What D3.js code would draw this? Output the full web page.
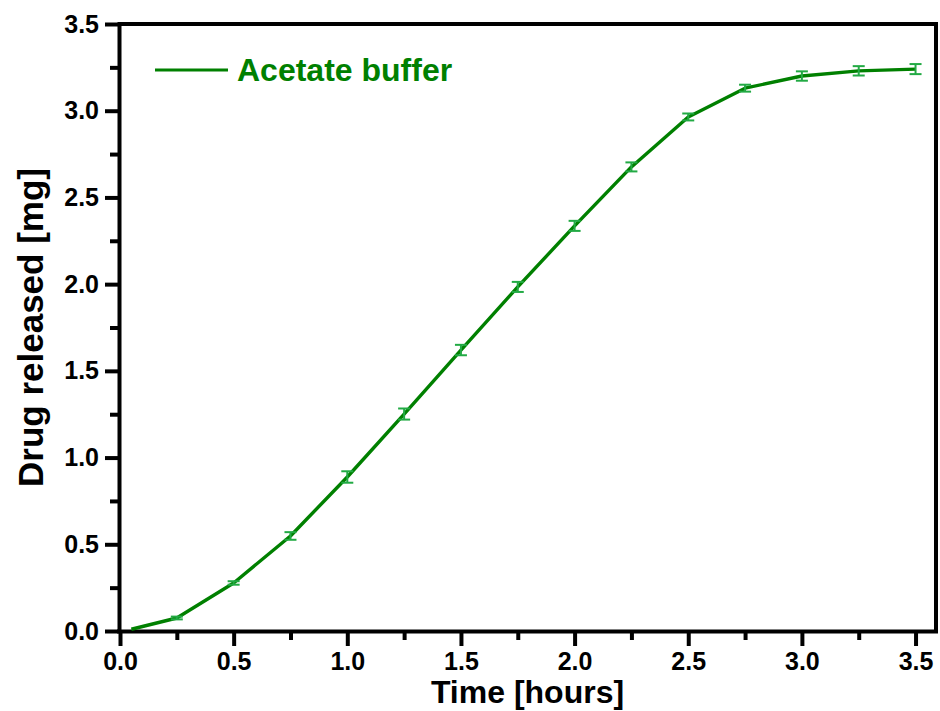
<!DOCTYPE html>
<html>
<head>
<meta charset="utf-8">
<script src="https://cdn.jsdelivr.net/npm/d3@7"></script>
<style>
  html, body { margin: 0; padding: 0; background: #fff; }
  svg { display: block; }
  text { font-family: "Liberation Sans", Arial, sans-serif; font-weight: bold; }
</style>
</head>
<body>
<svg id="chart" width="940" height="711"></svg>
<script>
// ---- data ----
const timeHours = [0.05, 0.25, 0.5, 0.75, 1.0, 1.25, 1.5, 1.75, 2.0, 2.25, 2.5, 2.75, 3.0, 3.25, 3.5];
const drugReleased = [0.01, 0.075, 0.277, 0.548, 0.888, 1.251, 1.62, 1.984, 2.336, 2.676, 2.964, 3.13, 3.2, 3.23, 3.24];
const errorValues = [0, 0.008, 0.01, 0.022, 0.033, 0.032, 0.03, 0.029, 0.029, 0.026, 0.02, 0.02, 0.027, 0.027, 0.029];
const xTicks = [0, 0.5, 1.0, 1.5, 2.0, 2.5, 3.0, 3.5];
const yTicks = [0, 0.5, 1.0, 1.5, 2.0, 2.5, 3.0, 3.5];
const xMinorTicks = [0.25, 0.75, 1.25, 1.75, 2.25, 2.75, 3.25];
const yMinorTicks = [0.25, 0.75, 1.25, 1.75, 2.25, 2.75, 3.25];
const seriesName = "Acetate buffer";
const xTitle = "Time [hours]";
const yTitle = "Drug released [mg]";

const data = timeHours.map((t, i) => ({ t, v: drugReleased[i], e: errorValues[i] }));

// ---- layout ----
const svg = d3.select("#chart");
const mLeft = 119, mRight = 936, mTop = 24, mBottom = 631;
const x = d3.scaleLinear().domain([0, 3.59]).range([mLeft + 1, mRight]);
const y = d3.scaleLinear().domain([0, 3.5]).range([mBottom, mTop]);

const lineColor = "#008000";
const errColor = "#22aa44";

// frame (top & right borders)
svg.append("path")
  .attr("d", `M${mLeft},${mTop} H${mRight} V${mBottom}`)
  .attr("fill", "none").attr("stroke", "#000").attr("stroke-width", 4);

function styleAxis(g) {
  g.select(".domain").attr("stroke", "#000").attr("stroke-width", 4);
  g.selectAll(".tick line").attr("stroke", "#000").attr("stroke-width", 4);
  g.selectAll(".tick text").attr("fill", "#000").attr("font-size", 25).attr("font-weight", "bold")
    .attr("font-family", "'Liberation Sans', Arial, sans-serif");
}

// minor ticks
svg.append("g").attr("transform", `translate(0,${mBottom})`)
  .call(d3.axisBottom(x).tickValues(xMinorTicks).tickSize(9).tickFormat(""))
  .call(g => { g.select(".domain").remove(); g.selectAll(".tick line").attr("stroke", "#000").attr("stroke-width", 4); });
svg.append("g").attr("transform", `translate(${mLeft},0)`)
  .call(d3.axisLeft(y).tickValues(yMinorTicks).tickSize(9).tickFormat(""))
  .call(g => { g.select(".domain").remove(); g.selectAll(".tick line").attr("stroke", "#000").attr("stroke-width", 4); });

// major axes
svg.append("g").attr("transform", `translate(0,${mBottom})`)
  .call(d3.axisBottom(x).tickValues(xTicks).tickSize(15).tickSizeOuter(0).tickPadding(6).tickFormat(d3.format(".1f")))
  .call(styleAxis)
  .call(g => g.select(".domain").attr("d", `M${mLeft - 2},0.5H${mRight + 2}`));

svg.append("g").attr("transform", `translate(${mLeft},0)`)
  .call(d3.axisLeft(y).tickValues(yTicks).tickSize(14).tickSizeOuter(0).tickPadding(6).tickFormat(d3.format(".1f")))
  .call(styleAxis)
  .call(g => g.select(".domain").attr("d", `M0.5,${mBottom + 2}V${mTop - 2}`));

// line
const line = d3.line().x(d => x(d.t)).y(d => y(d.v));
svg.append("path").datum(data)
  .attr("d", line)
  .attr("fill", "none").attr("stroke", lineColor).attr("stroke-width", 3.4)
  .attr("stroke-linejoin", "round");

// error bars
const eb = svg.append("g").attr("stroke", errColor).attr("stroke-width", 2).attr("fill", "none");
data.filter(d => d.e > 0).forEach(d => {
  const cx = x(d.t), y1 = y(d.v + d.e), y2 = y(d.v - d.e);
  eb.append("line").attr("x1", cx).attr("x2", cx).attr("y1", y1).attr("y2", y2);
  eb.append("line").attr("x1", cx - 6).attr("x2", cx + 6).attr("y1", y1).attr("y2", y1);
  eb.append("line").attr("x1", cx - 6).attr("x2", cx + 6).attr("y1", y2).attr("y2", y2);
});

// legend
svg.append("line").attr("x1", 155).attr("x2", 228).attr("y1", 70).attr("y2", 70)
  .attr("stroke", lineColor).attr("stroke-width", 3.2);
svg.append("text").attr("x", 237).attr("y", 81).attr("font-size", 32).attr("fill", lineColor)
  .text(seriesName);

// axis titles
svg.append("text").attr("x", (mLeft + mRight) / 2).attr("y", 703).attr("text-anchor", "middle")
  .attr("font-size", 32).attr("fill", "#000").text(xTitle);
svg.append("text").attr("transform", `translate(43,${(mTop + mBottom) / 2}) rotate(-90)`)
  .attr("text-anchor", "middle").attr("font-size", 35).attr("fill", "#000").text(yTitle);
</script>
</body>
</html>
